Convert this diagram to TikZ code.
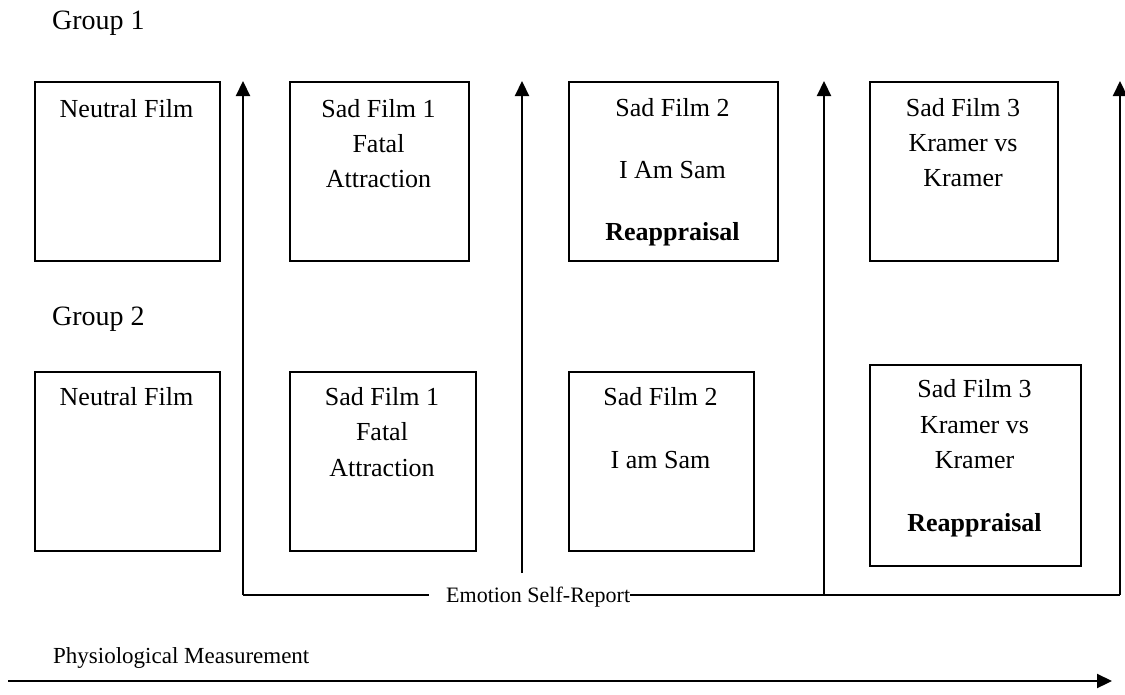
\documentclass[tikz,border=0pt]{standalone}
\usepackage{fontspec}
\setmainfont{Liberation Serif}
\usetikzlibrary{arrows.meta}
\begin{document}
\begin{tikzpicture}[x=1pt,y=-1pt,
  filmbox/.style={draw=black,line width=1.8pt,inner sep=0pt,anchor=north west},
  boxtext/.style={anchor=base,inner sep=0pt,font=\fontsize{26}{30}\selectfont},
  grouptext/.style={anchor=base west,inner sep=0pt,font=\fontsize{28}{32}\selectfont},
  smalltext/.style={inner sep=0pt,font=\fontsize{22}{26}\selectfont},
  measure/.style={line width=2.2pt,-{Triangle[width=14pt,length=15pt]}},
  plainline/.style={line width=2.2pt}]
\useasboundingbox (0,0) rectangle (1125,694);
% group labels
\node[grouptext] (g1) at (52,29) {Group 1};
\node[grouptext] (g2) at (52,325) {Group 2};
% top row boxes
\node[filmbox,minimum width=185pt,minimum height=179pt] (t1) at (34,81) {};
\node[filmbox,minimum width=179pt,minimum height=179pt] (t2) at (289,81) {};
\node[filmbox,minimum width=209pt,minimum height=179pt] (t3) at (568,81) {};
\node[filmbox,minimum width=188pt,minimum height=179pt] (t4) at (869,81) {};
% bottom row boxes
\node[filmbox,minimum width=185pt,minimum height=179pt] (b1) at (34,371) {};
\node[filmbox,minimum width=186pt,minimum height=179pt] (b2) at (289,371) {};
\node[filmbox,minimum width=185pt,minimum height=179pt] (b3) at (568,371) {};
\node[filmbox,minimum width=211pt,minimum height=201pt] (b4) at (869,364) {};
% top row texts
\node[boxtext] (t1a) at (126.5,117) {Neutral Film};
\node[boxtext] (t2a) at (378.5,117) {Sad Film 1};
\node[boxtext] (t2b) at (378.5,152) {Fatal};
\node[boxtext] (t2c) at (378.5,187) {Attraction};
\node[boxtext] (t3a) at (672.5,116) {Sad Film 2};
\node[boxtext] (t3b) at (672.5,178) {I Am Sam};
\node[boxtext,font=\fontsize{26}{30}\selectfont\bfseries] (t3c) at (672.5,240) {Reappraisal};
\node[boxtext] (t4a) at (963,116) {Sad Film 3};
\node[boxtext] (t4b) at (963,151) {Kramer vs};
\node[boxtext] (t4c) at (963,186) {Kramer};
% bottom row texts
\node[boxtext] (b1a) at (126.5,405) {Neutral Film};
\node[boxtext] (b2a) at (382,405) {Sad Film 1};
\node[boxtext] (b2b) at (382,440) {Fatal};
\node[boxtext] (b2c) at (382,476) {Attraction};
\node[boxtext] (b3a) at (660.5,405) {Sad Film 2};
\node[boxtext] (b3b) at (660.5,468) {I am Sam};
\node[boxtext] (b4a) at (974.5,397) {Sad Film 3};
\node[boxtext] (b4b) at (974.5,433) {Kramer vs};
\node[boxtext] (b4c) at (974.5,468) {Kramer};
\node[boxtext,font=\fontsize{26}{30}\selectfont\bfseries] (b4d) at (974.5,531) {Reappraisal};
% emotion self-report connectors
\coordinate (c1) at (243,595);
\coordinate (c3) at (824,595);
\coordinate (c4) at (1120,595);
\coordinate (a1) at (243,81);
\coordinate (a2) at (522,81);
\coordinate (a2b) at (522,573);
\coordinate (a3) at (824,81);
\coordinate (a4) at (1120,81);
\coordinate (cl) at (429,595);
\node[smalltext,anchor=west] (esr) at (446,597) {Emotion Self-Report};
\draw[measure] (c1) -- (a1);
\draw[measure] (a2b) -- (a2);
\draw[measure] (c3) -- (a3);
\draw[measure] (c4) -- (a4);
\draw[plainline] (c1) -- (cl);
\draw[plainline] (esr.east |- c4) -- (c4);
% physiological measurement
\node[smalltext,anchor=base west,font=\fontsize{23}{27}\selectfont] (pm) at (53,663) {Physiological Measurement};
\coordinate (p0) at (8,681);
\coordinate (p1) at (1112,681);
\draw[measure] (p0) -- (p1);
\end{tikzpicture}
\end{document}
